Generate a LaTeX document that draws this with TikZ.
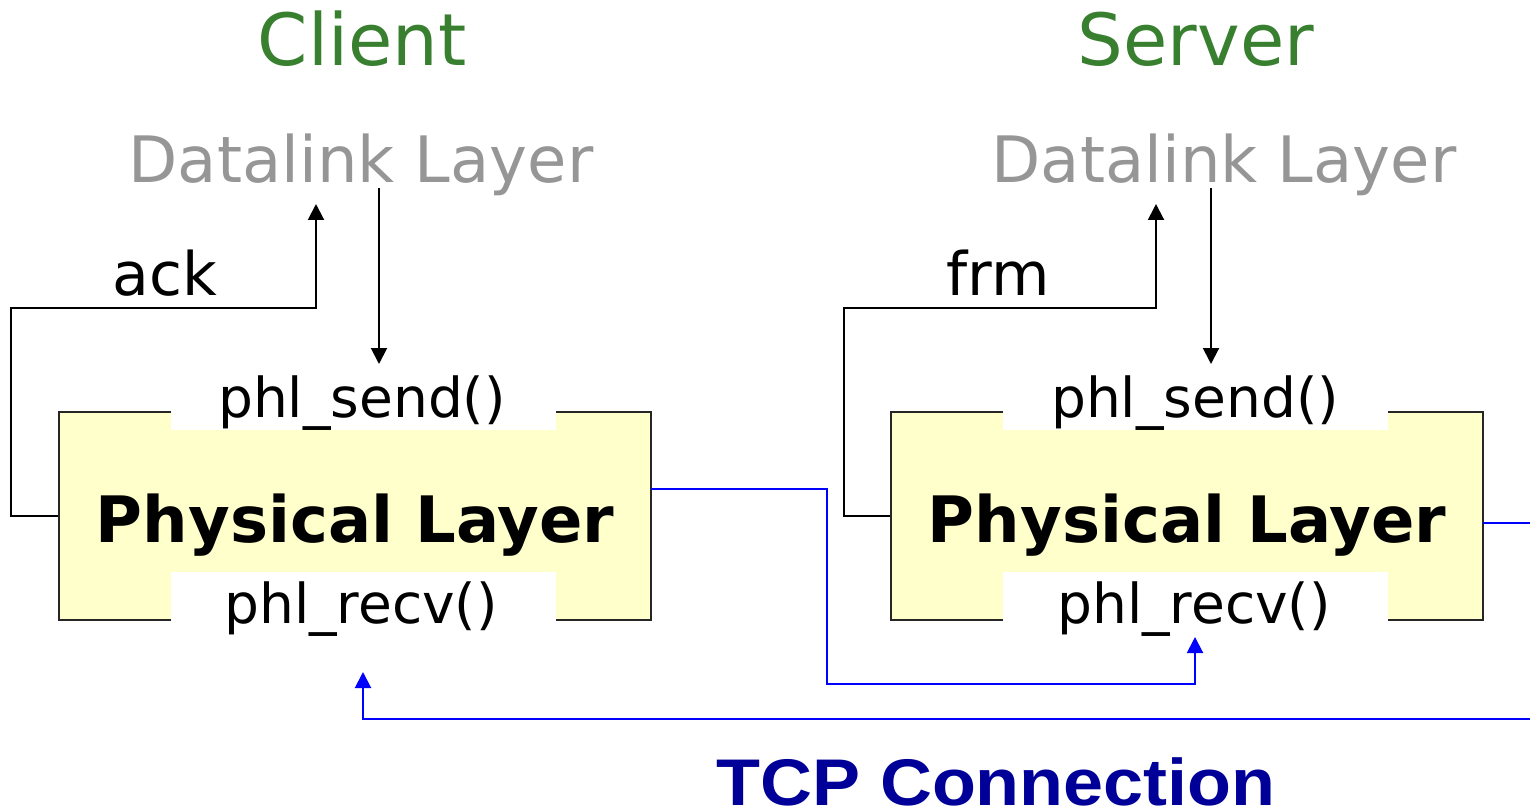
\documentclass[tikz,border=0pt]{standalone}
\usepackage{fontspec}
\setmainfont{DejaVu Sans}
\newfontfamily\arialfont{Liberation Sans}
\usetikzlibrary{arrows.meta}
\definecolor{titlegreen}{RGB}{56,128,48}
\definecolor{dlgray}{RGB}{150,150,150}
\definecolor{boxfill}{RGB}{255,255,204}
\definecolor{tcpblue}{RGB}{0,0,153}
\begin{document}
\begin{tikzpicture}[x=1pt,y=-1pt,
  title/.style={anchor=base,inner sep=0pt,text=titlegreen,font=\fontsize{72}{72}\selectfont},
  dltext/.style={anchor=base,inner sep=0pt,text=dlgray,font=\fontsize{64}{64}\selectfont},
  lbl/.style={anchor=base,inner sep=0pt,font=\fontsize{60}{60}\selectfont},
  fn/.style={anchor=base,inner sep=0pt,font=\fontsize{55}{55}\selectfont},
  physbox/.style={draw=black!85,line width=2pt,fill=boxfill,minimum width=592pt,minimum height=208pt,inner sep=0pt},
  notch/.style={fill=white,draw=none,inner sep=0pt,minimum width=385pt},
  physlbl/.style={anchor=base,inner sep=0pt,font=\bfseries\fontsize{64}{64}\selectfont},
  conn/.style={draw=black,line width=2pt,-{Triangle[length=16pt,width=16pt]}},
  blueconn/.style={draw=blue,line width=2pt,-{Triangle[length=16pt,width=16pt]}},
  blueline/.style={draw=blue,line width=2pt}]
\useasboundingbox (0,0) rectangle (1530,810);

% titles
\node[title] (client) at (362,66) {Client};
\node[title] (server) at (1196,66) {Server};

% datalink layers
\node[dltext] (cdl) at (361,183) {Datalink Layer};
\node[dltext] (sdl) at (1224,183) {Datalink Layer};

% physical boxes
\node[physbox] (cbox) at (355,516) {};
\node[physbox] (sbox) at (1187,516) {};
\node[notch,minimum height=20pt] (cnt) at (363.5,420) {};
\node[notch,minimum height=52pt] (cnb) at (363.5,598) {};
\node[notch,minimum height=20pt] (snt) at (1195.5,420) {};
\node[notch,minimum height=52pt] (snb) at (1195.5,598) {};
\node[physlbl] (cphys) at (355,542) {Physical Layer};
\node[physlbl] (sphys) at (1187,542) {Physical Layer};

% function names
\node[fn] (csend) at (362,417) {phl\_send()};
\node[fn] (crecv) at (361,623) {phl\_recv()};
\node[fn] (ssend) at (1195,417) {phl\_send()};
\node[fn] (srecv) at (1194,623) {phl\_recv()};

% labels
\node[lbl] (ack) at (165,295) {ack};
\node[lbl] (frm) at (998,295) {frm};

% coordinates for connector ends
\coordinate (cup) at (316,204);
\coordinate (cdownstart) at (379,188);
\coordinate (cdownend) at (379,364);
\coordinate (sup) at (1156,204);
\coordinate (sdownstart) at (1211,188);
\coordinate (sdownend) at (1211,364);
\coordinate (cout) at (651,489);
\coordinate (srecvin) at (1195,637);
\coordinate (sout) at (1483,523);
\coordinate (redge) at (1530,523);
\coordinate (bedge) at (1530,719);
\coordinate (crecvin) at (363,672);

% black connectors
\draw[conn] (cbox.west) -- (11,516) -- (11,308) -| (cup);
\draw[conn] (cdownstart) -- (cdownend);
\draw[conn] (sbox.west) -- (844,516) -- (844,308) -| (sup);
\draw[conn] (sdownstart) -- (sdownend);

% blue connectors
\draw[blueconn] (cout) -- (827,489) -- (827,684) -| (srecvin);
\draw[blueline] (sout) -- (redge);
\draw[blueconn] (bedge) -| (crecvin);

% TCP label
\node[anchor=base,inner sep=0pt,xscale=1.09,text=tcpblue,font=\arialfont\bfseries\fontsize{66}{66}\selectfont] (tcp) at (996,805) {TCP Connection};
\end{tikzpicture}
\end{document}
